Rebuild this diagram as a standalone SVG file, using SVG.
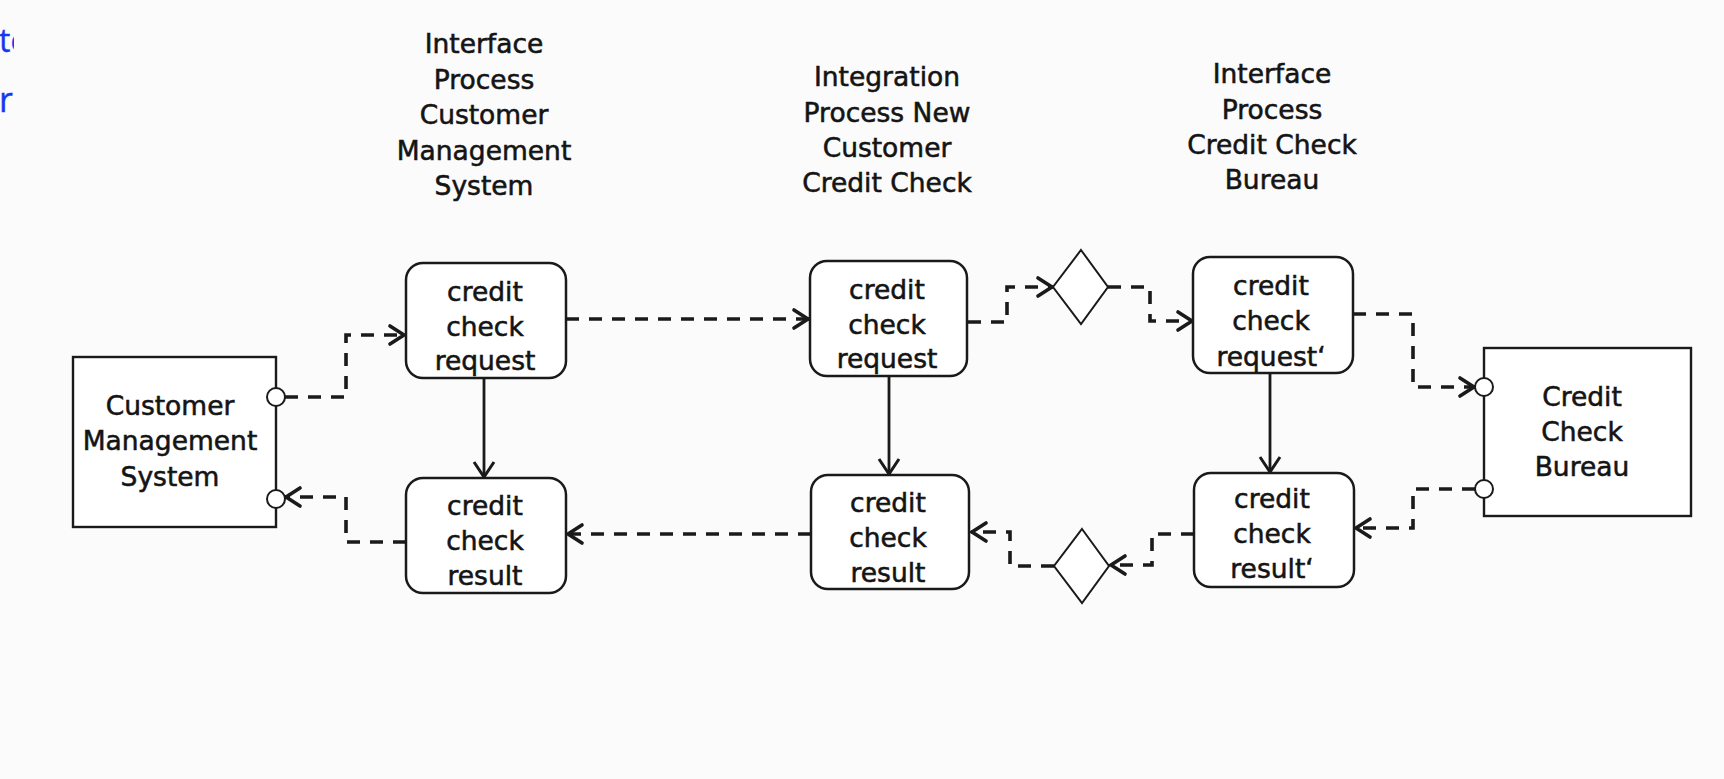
<svg xmlns="http://www.w3.org/2000/svg" width="1724" height="779" viewBox="0 0 1724 779">
<style>
  .t { font-family: "DejaVu Sans", "Liberation Sans", sans-serif; font-size: 26.5px; fill: #141414; stroke: #141414; stroke-width: 0.55; text-anchor: middle; }
  .blue { font-family: "Open Sans", "DejaVu Sans", sans-serif; fill: #1438f0; stroke: #1438f0; stroke-width: 0.4; }
  .box { fill: #ffffff; stroke: #1a1a1a; stroke-width: 2.5; }
  .sys { fill: #ffffff; stroke: #1a1a1a; stroke-width: 2.4; }
  .port { fill: #ffffff; stroke: #1a1a1a; stroke-width: 2; }
  .dia { fill: #ffffff; stroke: #1a1a1a; stroke-width: 2; }
  .dash { fill: none; stroke: #1a1a1a; stroke-width: 3.6; stroke-dasharray: 13 10; marker-end: url(#open); }
  .solid { fill: none; stroke: #1a1a1a; stroke-width: 2.8; marker-end: url(#openBig); }
</style>
<defs>
  <marker id="open" markerUnits="userSpaceOnUse" viewBox="-20 -12 22 24" refX="0" refY="0" markerWidth="22" markerHeight="24" orient="auto" overflow="visible">
    <path d="M-15,-9 L-1,0 L-15,9" fill="none" stroke="#1a1a1a" stroke-width="3.6" stroke-dasharray="none" stroke-linejoin="miter" stroke-linecap="round"/>
  </marker>
  <marker id="openBig" markerUnits="userSpaceOnUse" viewBox="-20 -12 22 24" refX="0" refY="0" markerWidth="22" markerHeight="24" orient="auto" overflow="visible">
    <path d="M-16,-10 L-1,0 L-16,10" fill="none" stroke="#1a1a1a" stroke-width="3" stroke-dasharray="none"/>
  </marker>
  <clipPath id="leftClip"><rect x="0" y="0" width="14" height="140"/></clipPath>
</defs>
<rect x="0" y="0" width="1724" height="779" fill="#fbfbfc"/>

<g id="clipped-blue-text" clip-path="url(#leftClip)">
  <text class="blue" x="-1" y="52" font-size="32">te</text>
  <text class="blue" x="-1" y="112" font-size="34">r</text>
</g>

<g id="header-interface-cms">
  <text class="t" x="484" y="53">Interface</text>
  <text class="t" x="484" y="88.5">Process</text>
  <text class="t" x="484" y="124">Customer</text>
  <text class="t" x="484" y="159.5">Management</text>
  <text class="t" x="484" y="195">System</text>
</g>
<g id="header-integration">
  <text class="t" x="887" y="86">Integration</text>
  <text class="t" x="887" y="121.5">Process New</text>
  <text class="t" x="887" y="157">Customer</text>
  <text class="t" x="887" y="192">Credit Check</text>
</g>
<g id="header-interface-ccb">
  <text class="t" x="1272" y="83">Interface</text>
  <text class="t" x="1272" y="118.5">Process</text>
  <text class="t" x="1272" y="153.5">Credit Check</text>
  <text class="t" x="1272" y="189">Bureau</text>
</g>

<g id="connectors">
  <path class="dash" d="M285 397 H346 V335 H405"/>
  <path class="dash" d="M406 542 H346 V497 H285"/>
  <path class="dash" d="M566 319 H809"/>
  <path class="dash" d="M811 534 H567"/>
  <path class="dash" d="M968 322 H1007 V287 H1053"/>
  <path class="dash" d="M1108 287 H1150 V321 H1193"/>
  <path class="dash" d="M1353 314 H1413 V387 H1475"/>
  <path class="dash" d="M1475 489 H1413 V528 H1355"/>
  <path class="dash" d="M1194 534 H1152 V565 H1110"/>
  <path class="dash" d="M1054 566 H1010 V532 H971"/>
  <path class="solid" d="M484 379 V478"/>
  <path class="solid" d="M889 377 V475"/>
  <path class="solid" d="M1270 374 V473"/>
</g>

<g id="customer-management-system">
  <rect class="sys" x="73" y="357" width="203" height="170"/>
  <circle class="port" cx="276" cy="397" r="9"/>
  <circle class="port" cx="276" cy="499" r="9"/>
  <text class="t" x="170" y="415">Customer</text>
  <text class="t" x="170" y="450">Management</text>
  <text class="t" x="170" y="486">System</text>
</g>

<g id="credit-check-bureau">
  <rect class="sys" x="1484" y="348" width="207" height="168"/>
  <circle class="port" cx="1484" cy="387" r="9"/>
  <circle class="port" cx="1484" cy="489" r="9"/>
  <text class="t" x="1582" y="406">Credit</text>
  <text class="t" x="1582" y="441">Check</text>
  <text class="t" x="1582" y="476">Bureau</text>
</g>

<g id="cms-request">
  <rect class="box" x="406" y="263" width="160" height="115" rx="17"/>
  <text class="t" x="485" y="301">credit</text>
  <text class="t" x="485" y="336">check</text>
  <text class="t" x="485" y="370">request</text>
</g>
<g id="cms-result">
  <rect class="box" x="406" y="478" width="160" height="115" rx="17"/>
  <text class="t" x="485" y="515">credit</text>
  <text class="t" x="485" y="550">check</text>
  <text class="t" x="485" y="585">result</text>
</g>

<g id="integration-request">
  <rect class="box" x="810" y="261" width="157" height="115" rx="17"/>
  <text class="t" x="887" y="299">credit</text>
  <text class="t" x="887" y="334">check</text>
  <text class="t" x="887" y="368">request</text>
</g>
<g id="integration-result">
  <rect class="box" x="811" y="475" width="158" height="114" rx="17"/>
  <text class="t" x="888" y="512">credit</text>
  <text class="t" x="888" y="547">check</text>
  <text class="t" x="888" y="582">result</text>
</g>

<g id="gateway-request">
  <polygon class="dia" points="1081,250 1108,287 1081,324 1053,287"/>
</g>
<g id="gateway-result">
  <polygon class="dia" points="1082,529 1109,566 1082,603 1054,566"/>
</g>

<g id="ccb-request">
  <rect class="box" x="1193" y="257" width="160" height="116" rx="17"/>
  <text class="t" x="1271" y="295">credit</text>
  <text class="t" x="1271" y="330">check</text>
  <text class="t" x="1271" y="366">request‘</text>
</g>
<g id="ccb-result">
  <rect class="box" x="1194" y="473" width="160" height="114" rx="17"/>
  <text class="t" x="1272" y="508">credit</text>
  <text class="t" x="1272" y="543">check</text>
  <text class="t" x="1272" y="578">result‘</text>
</g>
</svg>
